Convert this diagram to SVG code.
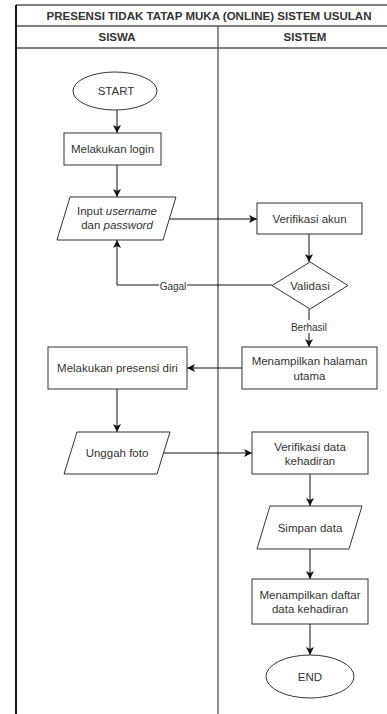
<svg xmlns="http://www.w3.org/2000/svg" width="387" height="714" viewBox="0 0 387 714">
  <style>
    .lane { stroke: #555; stroke-width: 1.3; fill: none; }
    .shape { fill: #fff; stroke: #333; stroke-width: 1; }
    .lbl { font-family: "Liberation Sans", Arial, sans-serif; font-size: 11.5px; fill: #333; text-anchor: middle; dominant-baseline: central; }
    .head { font-family: "Liberation Sans", Arial, sans-serif; font-size: 11.5px; font-weight: bold; fill: #333; text-anchor: middle; dominant-baseline: central; }
    .edge { stroke: #111; stroke-width: 1; fill: none; marker-end: url(#arrow); }
    .elbl { font-family: "Liberation Sans", Arial, sans-serif; font-size: 10px; fill: #333; text-anchor: middle; dominant-baseline: central; }
  </style>
  <defs>
    <marker id="arrow" viewBox="0 0 10 10" refX="10" refY="5" markerWidth="8" markerHeight="8" markerUnits="userSpaceOnUse" orient="auto">
      <path d="M0,0 L10,5 L0,10 L2.5,5 Z" fill="#111"/>
    </marker>
  </defs>

  <rect width="387" height="714" fill="#fff"/>

  <!-- swimlane frame -->
  <g id="pool">
    <line class="lane" x1="16" y1="5" x2="392" y2="5"/>
    <line class="lane" x1="16" y1="26" x2="392" y2="26"/>
    <line class="lane" x1="16" y1="48" x2="392" y2="48"/>
    <line x1="16" y1="5" x2="16" y2="714" stroke="#000" stroke-width="1.8"/>
    <line class="lane" x1="218" y1="26" x2="218" y2="714" stroke="#777"/>
    <text class="head" x="209" y="16" textLength="325" lengthAdjust="spacingAndGlyphs">PRESENSI TIDAK TATAP MUKA (ONLINE) SISTEM USULAN</text>
    <text class="head" x="117" y="37">SISWA</text>
    <text class="head" x="305" y="37">SISTEM</text>
  </g>

  <!-- connectors -->
  <g id="connectors">
    <line class="edge" x1="117" y1="110" x2="117" y2="133"/>
    <line class="edge" x1="117" y1="165" x2="117" y2="197"/>
    <line class="edge" x1="170" y1="219" x2="257" y2="219"/>
    <line class="edge" x1="309" y1="234" x2="309" y2="262"/>
    <polyline class="edge" points="272,285 117,285 117,240"/>
    <line class="edge" x1="309" y1="309" x2="309" y2="347"/>
    <line class="edge" x1="242" y1="368" x2="187" y2="368"/>
    <line class="edge" x1="117" y1="389" x2="117" y2="432"/>
    <line class="edge" x1="163" y1="453" x2="252" y2="453"/>
    <line class="edge" x1="310" y1="474" x2="310" y2="506"/>
    <line class="edge" x1="310" y1="549" x2="310" y2="579"/>
    <line class="edge" x1="310" y1="624" x2="310" y2="655"/>
    <rect x="159" y="279" width="28" height="13" fill="#fff"/>
    <text class="elbl" x="173" y="286">Gagal</text>
    <rect x="288" y="320" width="42" height="13" fill="#fff"/>
    <text class="elbl" x="309" y="327">Berhasil</text>
  </g>

  <g id="start">
    <ellipse class="shape" cx="115" cy="91" rx="42" ry="19"/>
    <text class="lbl" x="116" y="91">START</text>
  </g>

  <g id="login">
    <rect class="shape" x="64" y="133" width="97" height="32"/>
    <text class="lbl" x="112.5" y="149">Melakukan login</text>
  </g>

  <g id="input-akun">
    <polygon class="shape" points="70,197 176,197 163,240 57,240"/>
    <text class="lbl" x="117" y="211">Input <tspan font-style="italic">username</tspan></text>
    <text class="lbl" x="117" y="225">dan <tspan font-style="italic">password</tspan></text>
  </g>

  <g id="verifikasi-akun">
    <rect class="shape" x="257" y="203" width="105" height="31"/>
    <text class="lbl" x="309.5" y="218.5">Verifikasi akun</text>
  </g>

  <g id="validasi">
    <polygon class="shape" points="310,262 348,285.5 310,309 272,285.5"/>
    <text class="lbl" x="310" y="285.5">Validasi</text>
  </g>

  <g id="halaman-utama">
    <rect class="shape" x="242" y="347" width="135" height="42"/>
    <text class="lbl" x="309.5" y="361">Menampilkan halaman</text>
    <text class="lbl" x="309.5" y="376">utama</text>
  </g>

  <g id="presensi">
    <rect class="shape" x="48" y="347" width="139" height="42"/>
    <text class="lbl" x="117.5" y="368">Melakukan presensi diri</text>
  </g>

  <g id="unggah-foto">
    <polygon class="shape" points="77,432 170,432 157,474 64,474"/>
    <text class="lbl" x="117" y="453">Unggah foto</text>
  </g>

  <g id="verifikasi-data">
    <rect class="shape" x="252" y="432" width="116" height="42"/>
    <text class="lbl" x="310" y="447">Verifikasi data</text>
    <text class="lbl" x="310" y="461">kehadiran</text>
  </g>

  <g id="simpan-data">
    <polygon class="shape" points="270,506 362,506 349,549 257,549"/>
    <text class="lbl" x="310" y="527.5">Simpan data</text>
  </g>

  <g id="daftar-kehadiran">
    <rect class="shape" x="252" y="579" width="116" height="45"/>
    <text class="lbl" x="310" y="595">Menampilkan daftar</text>
    <text class="lbl" x="310" y="609">data kehadiran</text>
  </g>

  <g id="end">
    <ellipse class="shape" cx="310" cy="676.5" rx="44" ry="21.5"/>
    <text class="lbl" x="310" y="676.5">END</text>
  </g>
</svg>
